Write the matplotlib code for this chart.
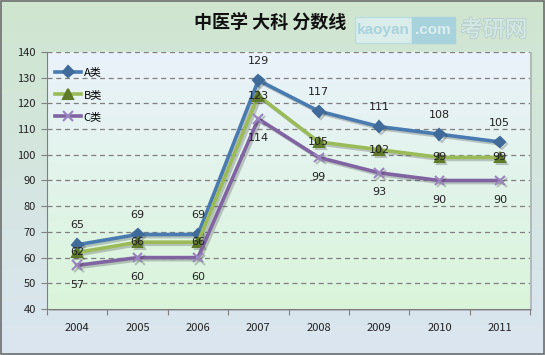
import matplotlib.pyplot as plt
import matplotlib.patheffects as pe
import numpy as np
from matplotlib.colors import LinearSegmentedColormap
from matplotlib.patches import Rectangle

plt.rcParams['font.family'] = ['Noto Sans CJK SC', 'DejaVu Sans']

years = ['2004', '2005', '2006', '2007', '2008', '2009', '2010', '2011']
a_vals = [65, 69, 69, 129, 117, 111, 108, 105]
b_vals = [62, 66, 66, 123, 105, 102, 99, 99]
c_vals = [57, 60, 60, 114, 99, 93, 90, 90]
names = ['A类', 'B类', 'C类']

W, H = 545, 355
fig = plt.figure(figsize=(5.45, 3.55), dpi=100)

# figure background gradient (green top -> blue bottom)
bg = fig.add_axes([0, 0, 1, 1], zorder=-10)
grad = np.linspace(0, 1, 256).reshape(-1, 1)
cm_fig = LinearSegmentedColormap.from_list('f', ['#cfe6cf', '#dbe5f1'])
bg.imshow(grad, aspect='auto', cmap=cm_fig, extent=[0, 1, 0, 1])
bg.set_xlim(0, 1)
bg.set_ylim(0, 1)
bg.axis('off')
# plot area shadow
bg.add_patch(Rectangle((49 / W, 1 - 311 / H), 483 / W, 259 / H, fc='#9aa0a0', ec='none', alpha=0.6))
fig.patches.append(Rectangle((0.001, 0.002), 0.997, 0.996, transform=fig.transFigure,
                             fill=False, edgecolor='#6e6e6e', lw=1.2))

ax = fig.add_axes([47 / W, 1 - 309 / H, (530 - 47) / W, (309 - 52) / H])
ax.patch.set_alpha(0)
cm_ax = LinearSegmentedColormap.from_list('a', ['#eaf2fb', '#daf5da'])
ax.imshow(grad, aspect='auto', cmap=cm_ax, extent=[-0.5, 7.5, 40, 140], zorder=0)
ax.set_xlim(-0.5, 7.5)
ax.set_ylim(40, 140)

ax.set_yticks(np.arange(40, 141, 10))
for y in range(50, 141, 10):
    ax.axhline(y, color='#7f7f7f', lw=0.9, ls=(0, (4, 3)), zorder=1)

x = np.arange(len(years))
ax.set_xticks(np.arange(-0.5, 8, 1))
ax.set_xticklabels([])
ax.set_xticks(x, minor=True)
ax.set_xticklabels(years, minor=True)
ax.tick_params(axis='x', which='major', length=4, color='#808080')
ax.tick_params(axis='x', which='minor', length=0, pad=10, labelsize=8, labelcolor='#222222')
ax.tick_params(axis='y', length=4, color='#808080', labelsize=8, labelcolor='#222222', pad=4)
for s in ['top', 'right']:
    ax.spines[s].set_visible(False)
for s in ['left', 'bottom']:
    ax.spines[s].set_color('#808080')

shadow = [pe.SimpleLineShadow(offset=(1.5, -1.5), shadow_color='#303030', alpha=0.25), pe.Normal()]
styles = [
    (a_vals, '#4a7bb0', 'D', 5.5, 14, '#3f6a9a'),
    (b_vals, '#9bbb59', '^', 7, 0, '#5f7a2a'),
    (c_vals, '#8064a2', 'x', 7, -14, '#9a84bd'),
]
for (vals, col, mk, ms, off, mcol), name in zip(styles, names):
    ax.plot(x, vals, color=col, lw=2.6, marker=mk, ms=ms, mfc=mcol, mec=mcol, mew=1.5,
            label=name, zorder=3, path_effects=shadow)
    for xi, v in zip(x, vals):
        ax.annotate(str(v), (xi, v), xytext=(0, off), textcoords='offset points',
                    ha='center', va='center', fontsize=8, color='#222222',
                    family='DejaVu Sans', zorder=5)

leg = ax.legend(loc='upper left', frameon=False, fontsize=8, handlelength=2.4,
                labelspacing=1.1, handletextpad=0.2, borderaxespad=0.3,
                bbox_to_anchor=(0.0, 0.97))
for h in leg.legend_handles:
    h.set_path_effects([pe.Normal()])

fig.text(270 / W, 1 - 23 / H, '中医学 大科 分数线', ha='center', va='center', fontsize=13,
         fontweight='bold', color='#111111')

# watermark
bg.add_patch(Rectangle((355 / W, 1 - 43 / H), 57 / W, 26 / H, fc='#dcefee', ec='#b6dbe0', lw=1, alpha=0.9))
bg.add_patch(Rectangle((412 / W, 1 - 43 / H), 43 / W, 26 / H, fc='#a9d3dc', ec='#a9d3dc', lw=1))
fig.text(383 / W, 1 - 30 / H, 'kaoyan', fontsize=11, color='#a9d3dc', fontweight='bold',
         ha='center', va='center', family=['Liberation Sans', 'DejaVu Sans'])
fig.text(433 / W, 1 - 30 / H, '.com', fontsize=11, color='#dcefee', fontweight='bold',
         ha='center', va='center', family=['Liberation Sans', 'DejaVu Sans'])
fig.text(494 / W, 1 - 30 / H, '考研网', fontsize=16, color='#d4e9e4', ha='center', va='center',
         path_effects=[pe.withStroke(linewidth=1.5, foreground='#b9cfcf'), pe.Normal()])

fig.savefig('out.png', dpi=100)
